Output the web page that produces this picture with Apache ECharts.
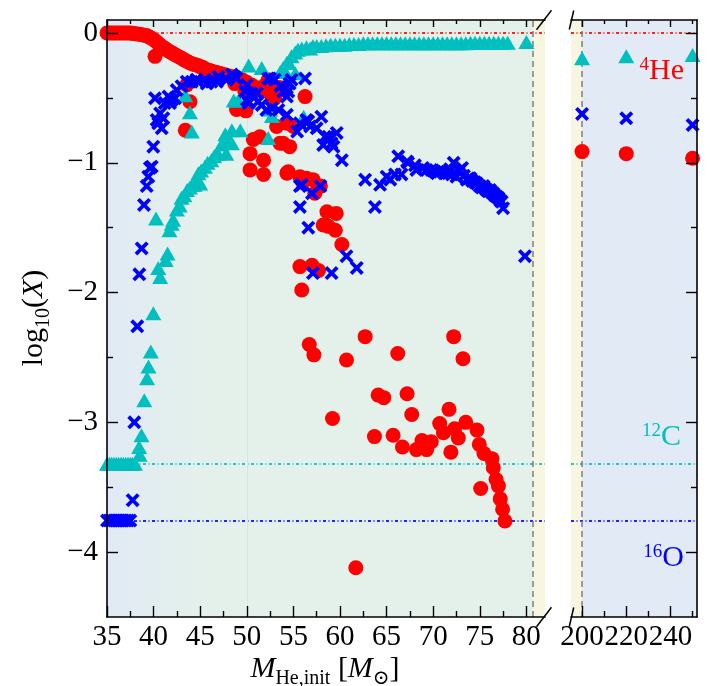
<!DOCTYPE html>
<html>
<head>
<meta charset="utf-8">
<script src="https://cdn.jsdelivr.net/npm/echarts@6/dist/echarts.min.js"></script>
<style>
  html, body { margin: 0; padding: 0; background: #fff; }
  #chart { width: 710px; height: 686px; }
</style>
</head>
<body>
<div id="chart"></div>
<script>
// ---- Surface abundances, log10 mass fraction, vs. initial helium-core mass ----

// 4He
const heMass = [35, 35.25, 35.5, 35.75, 36, 36.25, 36.5, 36.75, 37, 37.25, 37.5, 37.75, 38, 38.25, 38.5, 38.75, 39, 39.25,
  39.5, 39.75, 40.0, 40.15, 40.25, 40.5, 40.75, 41.0, 41.25, 41.5, 41.75, 42.0, 42.25, 42.5, 42.75, 43.0, 43.25, 43.4, 43.55,
  43.5, 43.75, 43.9, 44.0, 44.25, 44.5, 44.75, 45.0, 45.25, 45.5, 45.75, 46.0, 46.25, 46.5, 46.75, 47.0, 47.25, 47.5, 47.75,
  48.0, 48.25, 48.5, 48.7, 48.9, 49.0, 49.25, 49.5, 49.8, 49.9, 50.0, 50.35, 50.35, 50.5, 50.7, 51.0, 51.4, 51.5, 51.8, 51.8,
  52.0, 52.3, 52.5, 52.7, 53.0, 53.2, 53.5, 53.55, 53.9, 54.3, 54.3, 54.45, 54.6, 55.0, 55.7, 55.7, 55.9, 56.0, 56.25, 56.4,
  56.7, 57.0, 57.1, 57.2, 57.3, 57.7, 57.9, 58.2, 58.6, 58.75, 59.2, 59.5, 59.6, 60.2, 60.7, 61.7, 62.7, 63.7, 64.1, 64.7,
  65.7, 66.2, 66.7, 67.2, 67.7, 68.2, 68.8, 69.3, 69.8, 70.7, 71.1, 71.7, 71.9, 72.2, 72.3, 72.7, 73.2, 73.5, 74.7, 74.95,
  75.1, 75.45, 76.3, 76.45, 76.75, 77.0, 77.2, 77.45, 77.7];
const heLog = [0, 0, 0, 0, 0, 0, 0, 0, 0, 0, 0, -0.003, -0.005, -0.008, -0.01, -0.013, -0.017, -0.02,
  -0.03, -0.04, -0.05, -0.18, -0.065, -0.08, -0.095, -0.11, -0.12, -0.135, -0.145, -0.155, -0.165, -0.175, -0.185, -0.195, -0.205, -0.75, -0.40,
  -0.215, -0.225, -0.53, -0.233, -0.24, -0.245, -0.25, -0.26, -0.265, -0.275, -0.285, -0.29, -0.295, -0.30, -0.305, -0.31, -0.315, -0.32, -0.325,
  -0.33, -0.335, -0.34, -0.39, -0.59, -0.35, -0.355, -0.36, -0.45, -0.60, -0.38, -0.93, -1.055, -0.40, -0.82, -0.42, -0.80, -0.44, -0.98, -1.09,
  -0.40, -0.36, -0.45, -0.49, -0.50, -0.72, -0.42, -0.85, -0.85, -0.696, -1.08, -1.07, -0.876, -0.72, -1.107, -1.80, -1.98, -1.15, -0.49, -1.12,
  -2.40, -1.79, -1.13, -2.48, -1.235, -1.83, -1.18, -1.48, -1.377, -1.49, -2.97, -1.52, -1.39, -1.63, -2.52, -4.12, -2.34, -3.11, -2.79, -2.81,
  -3.10, -2.47, -3.19, -2.78, -2.94, -3.21, -3.14, -3.21, -3.15, -3.01, -3.08, -2.90, -3.23, -2.34, -3.05, -3.12, -2.51, -3.00, -3.06, -3.17,
  -3.51, -3.24, -3.28, -3.35, -3.44, -3.49, -3.59, -3.67, -3.76];

// 12C
const cMass = [35, 35.25, 35.5, 35.75, 36, 36.25, 36.5, 36.75, 37, 37.25, 37.5, 37.75, 38,
  38.45, 38.5, 38.7, 39.0, 39.3, 39.45, 39.7, 39.97, 40.26, 40.5, 40.7, 41.3, 41.5, 41.7, 41.95, 42.1, 42.5, 42.8, 43.0, 43.3,
  43.4, 43.6, 43.9, 43.9, 44.1, 44.2, 44.4, 44.5, 44.8, 45.0, 45.1, 45.5, 45.8, 46.2, 46.5, 46.9, 47.3, 47.7, 47.8, 48.0,
  48.4, 48.4, 48.6, 49.1, 49.3, 50.2, 51.6, 52.3, 52.5, 52.7, 53.6, 53.9, 54.3, 54.5, 54.8, 55.2, 55.2, 55.5, 55.9, 56.1,
  56.4, 56.8, 57.1, 57.5, 58, 58.5, 59, 59.5, 60, 60.5, 61, 61.5, 62, 62.5, 63, 63.5, 64, 64.5, 65, 65.5, 66, 66.5, 67, 67.5,
  68, 68.5, 69, 69.5, 70, 70.5, 71, 71.5, 72, 72.5, 73, 73.5, 74, 74.5, 75, 75.5, 76, 76.5, 77, 77.5, 78, 80];
const cLog = [-3.32, -3.32, -3.32, -3.32, -3.32, -3.32, -3.32, -3.32, -3.32, -3.32, -3.32, -3.32, -3.32,
  -3.19, -3.25, -3.10, -2.83, -2.66, -2.57, -2.455, -2.16, -1.43, -1.81, -1.88, -1.75, -1.70, -1.52, -1.47, -1.44, -1.36, -1.33, -1.27, -1.25,
  -0.48, -1.21, -0.61, -1.19, -0.76, -1.17, -1.17, -1.13, -1.08, -1.16, -1.06, -1.03, -1.00, -0.98, -0.95, -0.93, -0.86, -0.78, -0.93, -0.83,
  -0.85, -0.75, -0.52, -0.52, -0.75, -0.25, -0.27, -0.81, -0.59, -0.64, -0.30, -0.27, -0.23, -0.23, -0.18, -0.31, -0.15, -0.13, -0.12, -0.645,
  -0.11, -0.12, -0.10, -0.10, -0.10, -0.095, -0.09, -0.09, -0.09, -0.09, -0.085, -0.085, -0.085, -0.08, -0.08, -0.08, -0.08, -0.08, -0.08, -0.08, -0.08, -0.08, -0.08, -0.08,
  -0.08, -0.08, -0.08, -0.08, -0.08, -0.08, -0.08, -0.08, -0.08, -0.08, -0.08, -0.08, -0.075, -0.075, -0.075, -0.075, -0.075, -0.075, -0.075, -0.075, -0.075, -0.07];

// 16O
const oMass = [35, 35.25, 35.5, 35.75, 36, 36.25, 36.5, 36.75, 37, 37.25, 37.5,
  37.75, 37.93, 38.25, 38.47, 38.72, 38.97, 39.26, 39.43, 39.6, 39.8, 39.97, 40.15, 40.33, 40.5, 40.7, 40.87, 41.04, 41.2,
  41.6, 41.76, 41.94, 42.3, 42.48, 43.0, 43.55, 44.1, 44.6, 44.8, 45.5, 45.7, 46.2, 46.8, 46.95, 47.7, 47.85, 48.4, 48.7,
  48.9, 49.8, 50.0, 50.0, 50.2, 50.5, 51.1, 51.2, 51.6, 52.1, 52.3, 52.5, 53.0, 52.7, 53.4, 53.6, 53.9, 54.3, 54.45, 54.8,
  54.6, 56.25, 54.3, 55.4, 55.7, 56.4, 56.6, 56.8, 57.5, 58.0, 58.4, 58.75, 59.1, 59.65, 58.2, 59.3, 60.2, 55.7, 55.9,
  57.0, 57.9, 55.7, 56.6, 60.7, 61.8, 59.1, 57.1, 62.7, 63.75, 64.3, 65.0, 65.4, 65.9, 66.25, 66.6, 67.2, 67.3, 68.05,
  68.2, 68.9, 69.3, 69.8, 70.0, 70.2, 70.4, 70.7, 70.9, 71.2, 71.45, 71.6, 71.8, 72.0, 72.2, 72.5, 72.8, 73.1, 73.3, 73.6,
  73.8, 74.0, 74.2, 74.5, 74.7, 75.0, 75.2, 75.4, 75.6, 75.75, 75.9, 76.1, 76.3, 76.45, 76.6, 76.8, 77.0, 77.2, 77.35,
  77.5, 79.85];
const oLog = [-3.757, -3.757, -3.757, -3.757, -3.757, -3.757, -3.757, -3.757, -3.757, -3.757, -3.757,
  -3.60, -3.00, -2.26, -1.86, -1.66, -1.325, -1.18, -1.107, -1.04, -1.03, -0.876, -0.503, -0.67, -0.696, -0.62, -0.734, -0.657, -0.54,
  -0.49, -0.54, -0.516, -0.503, -0.44, -0.41, -0.375, -0.375, -0.36, -0.375, -0.36, -0.39, -0.375, -0.375, -0.337, -0.35, -0.36, -0.32, -0.337,
  -0.35, -0.45, -0.40, -0.516, -0.54, -0.465, -0.465, -0.53, -0.555, -0.593, -0.35, -0.35, -0.36, -0.58, -0.593, -0.41, -0.45, -0.49, -0.45, -0.36,
  -0.39, -0.35, -0.63, -0.76, -0.696, -0.67, -0.68, -0.72, -0.734, -0.645, -0.80, -0.80, -0.85, -0.77, -0.863, -0.876, -0.98, -1.18, -1.17,
  -1.235, -1.18, -1.34, -1.50, -1.72, -1.81, -1.85, -1.85, -1.13, -1.34, -1.17, -1.107, -1.13, -1.09, -0.95, -1.09, -0.99, -1.0, -1.02,
  -1.055, -1.04, -1.055, -1.055, -1.06, -1.07, -1.08, -1.07, -1.06, -1.08, -1.07, -1.08, -1.05, -1.09, -1.0, -1.107, -1.06, -1.04, -1.10, -1.13,
  -1.12, -1.12, -1.14, -1.15, -1.16, -1.18, -1.19, -1.18, -1.20, -1.21, -1.22, -1.21, -1.23, -1.235, -1.25, -1.26, -1.27, -1.29, -1.30,
  -1.35, -1.72];

// very massive models (right-hand panel)
const hiMass = [200, 220, 250];
const hiHe = [-0.914, -0.93, -0.965];
const hiC = [-0.195, -0.18, -0.17];
const hiO = [-0.624, -0.657, -0.709];

// initial surface abundances
const heInit = 0;
const cInit = -3.32;
const oInit = -3.757;

// region boundaries on the mass axis
const leftRange = [35, 82];
const rightRange = [195, 252];
const gapLeft = 80.7;
const gapRight = 200;
const blendEnd = 50;

// tick positions and labels
const xMajorL = [35, 40, 45, 50, 55, 60, 65, 70, 75, 80];
const xMinorL = [37.5, 42.5, 47.5, 52.5, 57.5, 62.5, 67.5, 72.5, 77.5];
const xMajorR = [200, 220, 240];
const xMinorR = [210, 230, 250];
const yRange = [-4.5, 0.1];
const yMajor = [-4, -3, -2, -1, 0];
const yMinor = [-3.5, -2.5, -1.5, -0.5];

// ---- styling ----
const SERIF = "'Liberation Serif', 'DejaVu Serif', serif";
const RED = '#ff0000', CYAN = '#00bfbf', BLUE = '#0000ff';
const BG_BLUE = '#e1eaf5', BG_GREEN = '#e4f1ea', BG_YELLOW = '#f7f6e1';
// thick "x" marker as a filled outline
const CROSS = 'path://M0,1.9L1.9,0L5,3.1L8.1,0L10,1.9L6.9,5L10,8.1L8.1,10L5,6.9L1.9,10L0,8.1L3.1,5Z';

const GL = { left: 107, top: 20, width: 438, height: 597 };
const GR = { left: 571, top: 20, width: 126, height: 597 };

const pairs = (xs, ys) => xs.map((x, i) => [x, ys[i]]);
const minus = v => (v < 0 ? '\u2212' + Math.abs(v) : String(v));

function axis(gridIndex, range, position, ticks, len, opts) {
  opts = opts || {};
  return {
    type: 'value', gridIndex, min: range[0], max: range[1], position, z: 10,
    axisLine: { show: !!opts.line, onZero: false, lineStyle: { color: '#000', width: 1.6 } },
    axisTick: { show: true, inside: true, length: len, customValues: ticks, lineStyle: { color: '#000', width: 1.4 } },
    axisLabel: opts.labels ? {
      show: true, customValues: opts.labels, margin: opts.margin, color: '#000',
      fontFamily: SERIF, fontSize: 29, formatter: minus
    } : { show: false },
    splitLine: { show: false },
    minorTick: { show: false }
  };
}

const dashDot = { type: [3, 2.5, 1, 2.5], width: 2 };
const hLines = [
  { yAxis: heInit, lineStyle: Object.assign({ color: 'rgba(255,0,0,0.85)' }, dashDot) },
  { yAxis: cInit, lineStyle: Object.assign({ color: 'rgba(0,191,191,0.85)' }, dashDot) },
  { yAxis: oInit, lineStyle: Object.assign({ color: 'rgba(0,0,255,0.85)' }, dashDot) }
];
const vDash = { type: [6, 4], width: 1.5, color: '#7f7f7f' };

const dot = (name, xIdx, yIdx, symbol, size, color, data) => ({
  name, type: 'scatter', xAxisIndex: xIdx, yAxisIndex: yIdx, z: 3, symbol, symbolSize: size,
  itemStyle: { color, opacity: 1 }, emphasis: { disabled: true }, data
});

const option = {
  animation: false,
  backgroundColor: '#fff',
  grid: [
    Object.assign({ containLabel: false, outerBoundsMode: 'none' }, GL),
    Object.assign({ containLabel: false, outerBoundsMode: 'none' }, GR)
  ],
  xAxis: [
    axis(0, leftRange, 'bottom', xMajorL, 11, { line: true, labels: xMajorL, margin: 6 }),
    axis(0, leftRange, 'bottom', xMinorL, 6),
    axis(0, leftRange, 'top', xMajorL, 7, { line: true }),
    axis(0, leftRange, 'top', xMinorL, 4),
    axis(1, rightRange, 'bottom', xMajorR, 11, { line: true, labels: xMajorR, margin: 6 }),
    axis(1, rightRange, 'bottom', xMinorR, 6),
    axis(1, rightRange, 'top', xMajorR, 7, { line: true }),
    axis(1, rightRange, 'top', xMinorR, 4)
  ],
  yAxis: [
    axis(0, yRange, 'left', yMajor, 11, { line: true, labels: yMajor, margin: 9 }),
    axis(0, yRange, 'left', yMinor, 6),
    axis(1, yRange, 'right', yMajor, 11, { line: true }),
    axis(1, yRange, 'right', yMinor, 6)
  ],
  series: [
    {
      type: 'scatter', xAxisIndex: 0, yAxisIndex: 0, data: [], silent: true,
      markArea: {
        silent: true, z: 1,
        data: [
          [{ xAxis: leftRange[0], itemStyle: { opacity: 1, color: { type: 'linear', x: 0, y: 0, x2: 1, y2: 0,
              colorStops: [{ offset: 0, color: BG_BLUE }, { offset: 0.75, color: BG_GREEN }, { offset: 1, color: BG_GREEN }] } } },
            { xAxis: blendEnd }],
          [{ xAxis: blendEnd, itemStyle: { color: BG_GREEN, opacity: 1 } }, { xAxis: gapLeft }],
          [{ xAxis: gapLeft, itemStyle: { color: BG_YELLOW, opacity: 1 } }, { xAxis: leftRange[1] }]
        ]
      },
      markLine: {
        silent: true, z: 2, symbol: ['none', 'none'], label: { show: false },
        data: hLines.concat([
          { xAxis: gapLeft, lineStyle: vDash },
          { xAxis: blendEnd, lineStyle: { type: 'solid', width: 1, color: '#d2e6db' } }
        ])
      }
    },
    {
      type: 'scatter', xAxisIndex: 4, yAxisIndex: 2, data: [], silent: true,
      markArea: {
        silent: true, z: 1,
        data: [
          [{ xAxis: rightRange[0], itemStyle: { color: BG_YELLOW, opacity: 1 } }, { xAxis: gapRight }],
          [{ xAxis: gapRight, itemStyle: { color: BG_BLUE, opacity: 1 } }, { xAxis: rightRange[1] }]
        ]
      },
      markLine: {
        silent: true, z: 2, symbol: ['none', 'none'], label: { show: false },
        data: hLines.concat([{ xAxis: gapRight, lineStyle: vDash }])
      }
    },
    dot('4He', 0, 0, 'circle', 15, RED, pairs(heMass, heLog)),
    dot('12C', 0, 0, 'triangle', [16, 14], CYAN, pairs(cMass, cLog)),
    dot('16O', 0, 0, CROSS, 14, BLUE, pairs(oMass, oLog)),
    dot('4He', 4, 2, 'circle', 15, RED, pairs(hiMass, hiHe)),
    dot('12C', 4, 2, 'triangle', [16, 14], CYAN, pairs(hiMass, hiC)),
    dot('16O', 4, 2, CROSS, 14, BLUE, pairs(hiMass, hiO))
  ]
};

// axis-break marks, axis titles and species tags
const lEdge = GL.left + GL.width, rEdge = GR.left;
const frameTop = GL.top, frameBottom = GL.top + GL.height;
const brk = (cx, cy, dx, dy) => ({
  type: 'line', z: 50, silent: true,
  shape: { x1: cx - dx, y1: cy + dy, x2: cx + dx, y2: cy - dy },
  style: { stroke: '#000', lineWidth: 1.5 }
});
const tag = (x, y, text, color) => ({
  type: 'text', z: 50, silent: true, x, y,
  style: {
    text, align: 'right', verticalAlign: 'middle', fill: color,
    rich: {
      sup: { fontFamily: SERIF, fontSize: 19, lineHeight: 19, verticalAlign: 'top', fill: color },
      n: { fontFamily: SERIF, fontSize: 30, lineHeight: 32, verticalAlign: 'top', fill: color }
    }
  }
});
const titleRich = {
  i: { fontFamily: SERIF, fontStyle: 'italic', fontSize: 30, lineHeight: 32, verticalAlign: 'top', fill: '#000' },
  n: { fontFamily: SERIF, fontSize: 30, lineHeight: 32, verticalAlign: 'top', fill: '#000' },
  s: { fontFamily: SERIF, fontSize: 20, lineHeight: 20, padding: [15, 0, 0, 0], verticalAlign: 'top', fill: '#000' }
};

option.graphic = [
  brk(lEdge - 1, frameTop, 7.5, 9.7), brk(rEdge + 0.5, frameTop, 2.2, 9.5),
  brk(lEdge - 1, frameBottom, 7.5, 9.7), brk(rEdge + 0.5, frameBottom, 2.2, 9.5),
  tag(684, 72, '{sup|4}{n|He}', RED),
  tag(681, 438, '{sup|12}{n|C}', CYAN),
  tag(684, 559, '{sup|16}{n|O}', BLUE),
  {
    type: 'text', z: 50, silent: true, x: 325, y: 670,
    style: {
      text: '{i|M}{s|He,init}{n| [}{i|M}{s|\u2299}{n|]}',
      align: 'center', verticalAlign: 'middle', fill: '#000', rich: titleRich
    }
  },
  {
    type: 'text', z: 50, silent: true, x: 35, y: 318, rotation: Math.PI / 2,
    style: {
      text: '{n|log}{s|10}{n|(}{i|X}{n|)}',
      align: 'center', verticalAlign: 'middle', fill: '#000', rich: titleRich
    }
  }
];

const chart = echarts.init(document.getElementById('chart'), null, { renderer: 'canvas' });
chart.setOption(option);
</script>
</body>
</html>
